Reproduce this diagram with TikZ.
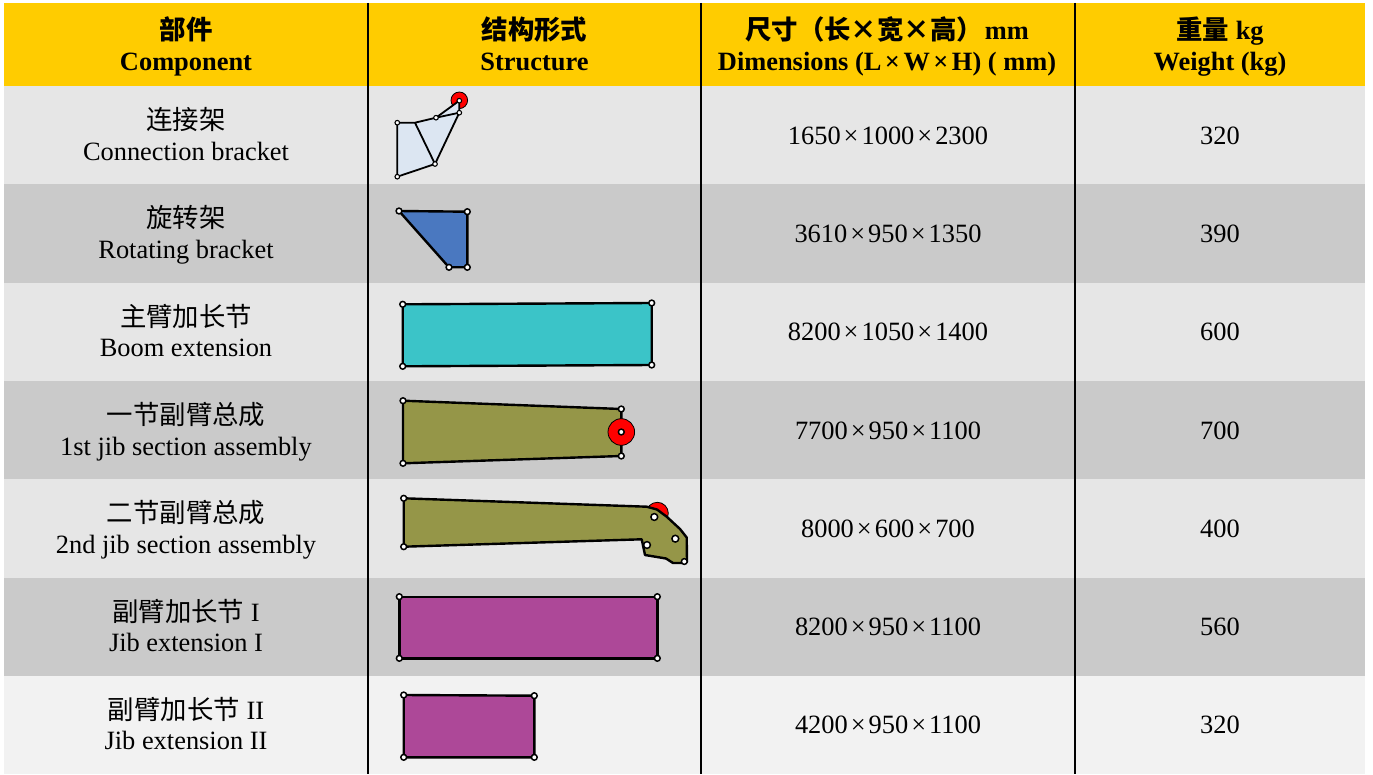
\documentclass[tikz,border=0pt]{standalone}
\usepackage{fontspec}
\setmainfont{Liberation Serif}
\newfontfamily\cjk{Noto Sans CJK SC}
\newcommand\tm{\kern3pt×\kern3pt}
\newcommand\tmh{\kern3.5pt×\kern3.5pt}
\definecolor{hdr}{HTML}{FFCC00}
\definecolor{rowA}{HTML}{E6E6E6}
\definecolor{rowB}{HTML}{CACACA}
\definecolor{rowC}{HTML}{F2F2F2}
\definecolor{cbrk}{HTML}{DCE6F2}
\definecolor{crot}{HTML}{4A78C0}
\definecolor{cboom}{HTML}{3BC4C8}
\definecolor{cjib}{HTML}{959648}
\definecolor{cext}{HTML}{AD4898}
\definecolor{cpin}{HTML}{FF0000}
\tikzset{
  txt/.style={anchor=base,inner sep=0pt,font=\fontsize{26.4}{30}\selectfont},
  htxt/.style={anchor=base,inner sep=0pt,font=\fontsize{26.4}{30}\selectfont\bfseries},
  part/.style={draw=black,line width=2.4pt,line join=round},
  pinhole/.style={fill=white,draw=black,line width=1.5pt},
  redpin/.style={fill=cpin,draw=black,line width=0.8pt},
  sep/.style={draw=black,line width=2.2pt}
}
\begin{document}
\begin{tikzpicture}[x=1pt,y=-1pt]
\useasboundingbox (0,0) rectangle (1373,775);
\fill[white] (0,0) rectangle (1373,775);
% header and rows
\fill[hdr] (4,3) rectangle (1365,86);
\fill[rowA] (4,86) rectangle (1365,184.3);
\fill[rowB] (4,184.3) rectangle (1365,282.6);
\fill[rowA] (4,282.6) rectangle (1365,380.9);
\fill[rowB] (4,380.9) rectangle (1365,479.2);
\fill[rowA] (4,479.2) rectangle (1365,577.5);
\fill[rowB] (4,577.5) rectangle (1365,675.8);
\fill[rowC] (4,675.8) rectangle (1365,774);
% column separators
\coordinate (s1t) at (368,3); \coordinate (s1b) at (368,774);
\coordinate (s2t) at (701,3); \coordinate (s2b) at (701,774);
\coordinate (s3t) at (1075,3); \coordinate (s3b) at (1075,774);
\draw[sep] (s1t) -- (s1b);
\draw[sep] (s2t) -- (s2b);
\draw[sep] (s3t) -- (s3b);
% header text
\node[htxt] (h1a) at (186,40) {\cjk\bfseries 部件};
\node[htxt] (h1b) at (186,71) {Component};
\node[htxt] (h2a) at (534.5,40) {\cjk\bfseries 结构形式};
\node[htxt] (h2b) at (534.5,71) {Structure};
\node[htxt] (h3a) at (887,40) {{\cjk\bfseries 尺寸（长×宽×高）}\kern2pt mm};
\node[htxt] (h3b) at (887,71) {Dimensions (L\tmh W\tmh H) ( mm)};
\node[htxt] (h4a) at (1220,40) {{\cjk\bfseries 重量}\ kg};
\node[htxt] (h4b) at (1220,71) {Weight (kg)};
% body text
\node[txt] (n1a) at (186,129.7) {\cjk 连接架};
\node[txt] (n1b) at (186,160.2) {Connection bracket};
\node[txt] (d1) at (888,144.2) {1650\tm 1000\tm 2300};
\node[txt] (w1) at (1220,144.2) {320};
\node[txt] (n2a) at (186,228) {\cjk 旋转架};
\node[txt] (n2b) at (186,258.5) {Rotating bracket};
\node[txt] (d2) at (888,242.5) {3610\tm 950\tm 1350};
\node[txt] (w2) at (1220,242.5) {390};
\node[txt] (n3a) at (186,326.3) {\cjk 主臂加长节};
\node[txt] (n3b) at (186,356.8) {Boom extension};
\node[txt] (d3) at (888,340.8) {8200\tm 1050\tm 1400};
\node[txt] (w3) at (1220,340.8) {600};
\node[txt] (n4a) at (186,424.5) {\cjk 一节副臂总成};
\node[txt] (n4b) at (186,455) {1st jib section assembly};
\node[txt] (d4) at (888,439) {7700\tm 950\tm 1100};
\node[txt] (w4) at (1220,439) {700};
\node[txt] (n5a) at (186,522.8) {\cjk 二节副臂总成};
\node[txt] (n5b) at (186,553.3) {2nd jib section assembly};
\node[txt] (d5) at (888,537.3) {8000\tm 600\tm 700};
\node[txt] (w5) at (1220,537.3) {400};
\node[txt] (n6a) at (186,621.1) {{\cjk 副臂加长节}\ I};
\node[txt] (n6b) at (186,651.6) {Jib extension I};
\node[txt] (d6) at (888,635.6) {8200\tm 950\tm 1100};
\node[txt] (w6) at (1220,635.6) {560};
\node[txt] (n7a) at (186,719.4) {{\cjk 副臂加长节}\ II};
\node[txt] (n7b) at (186,749.9) {Jib extension II};
\node[txt] (d7) at (888,733.9) {4200\tm 950\tm 1100};
\node[txt] (w7) at (1220,733.9) {320};
% --- structure drawings ---
% connection bracket
\fill[redpin] (459.3,100.3) circle (8.3);
\draw[part,fill=cbrk,line width=1.8pt] (397.3,122.7) -- (415,122.7) -- (436,117.7) -- (459.3,100.7) -- (459.3,112.7) -- (435,164) -- (397.3,176.7) -- cycle;
\draw[part,line width=1.8pt] (415,122.7) -- (435,164);
\draw[part,line width=1.8pt] (436,117.7) -- (459.3,112.7);
\foreach \p in {(397.3,122.7),(436,117.7),(459.3,112.7),(459.3,100.7),(435,164),(397.3,176.7)}
  \draw[pinhole,line width=1.1pt] \p circle (2.3);
% rotating bracket
\draw[part,fill=crot] (399,211) -- (467.3,211.7) -- (467.3,267.3) -- (449,267.3) -- cycle;
\foreach \p in {(399,211),(467.3,211.7),(467.3,267.3),(449,267.3)}
  \draw[pinhole] \p circle (2.9);
% boom extension
\draw[part,fill=cboom] (402.7,304.3) -- (651.7,303) -- (651.7,365) -- (402.7,366.3) -- cycle;
\foreach \p in {(402.7,304.3),(651.7,303),(651.7,365),(402.7,366.3)}
  \draw[pinhole] \p circle (2.9);
% 1st jib section
\draw[part,fill=cjib] (403,400.7) -- (621.3,409) -- (621.3,456) -- (403,463.3) -- cycle;
\draw[redpin] (621.3,432) circle (13.3);
\foreach \p in {(403,400.7),(621.3,409),(621.3,456),(403,463.3),(621.3,432)}
  \draw[pinhole] \p circle (2.9);
% 2nd jib section
\draw[redpin] (657.3,513.3) circle (11);
\draw[part,fill=cjib] (403.7,498.3) -- (646.7,506.7) -- (657,509.5) -- (666.7,516.7) -- (680,529) -- (686.7,537.5) -- (687,561.7) -- (684.3,563) -- (673,563) -- (666,558.5) -- (645,555) -- (641.7,539.3) -- (403.7,546.7) -- cycle;
\foreach \p in {(403.7,498.3),(403.7,546.7),(684.3,561.5)}
  \draw[pinhole] \p circle (2.9);
\foreach \p in {(654.3,517),(675.3,538.7),(647,545)}
  \draw[pinhole] \p circle (3.4);
% jib extension I
\draw[part,fill=cext] (399.3,596.7) -- (657.3,596.7) -- (657.3,658.3) -- (399.3,658.3) -- cycle;
\foreach \p in {(399.3,596.7),(657.3,596.7),(657.3,658.3),(399.3,658.3)}
  \draw[pinhole] \p circle (2.9);
% jib extension II
\draw[part,fill=cext] (403.7,695) -- (534.3,695.7) -- (534.3,757.3) -- (403.7,757.3) -- cycle;
\foreach \p in {(403.7,695),(534.3,695.7),(534.3,757.3),(403.7,757.3)}
  \draw[pinhole] \p circle (2.9);
\end{tikzpicture}
\end{document}
